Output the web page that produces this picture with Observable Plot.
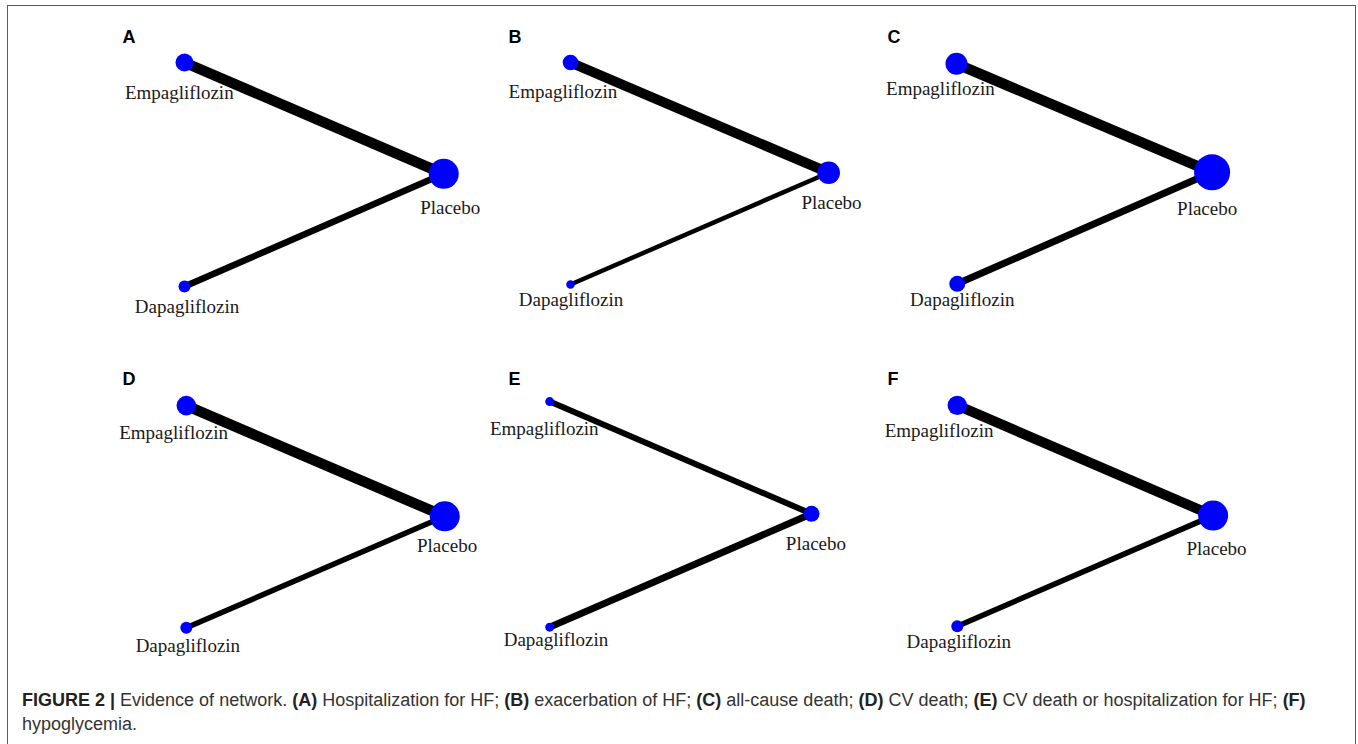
<!DOCTYPE html>
<html><head><meta charset="utf-8">
<script src="https://cdn.jsdelivr.net/npm/d3@7"></script>
<script src="https://cdn.jsdelivr.net/npm/@observablehq/plot@0.6"></script>
<style>
html,body{margin:0;padding:0;background:#fff;width:1358px;height:744px;overflow:hidden;}
#frame{position:absolute;left:7px;top:5px;width:1349px;height:780px;border:1.5px solid #5a5a5a;box-sizing:border-box;pointer-events:none;}
.panel{position:absolute;}
#caption{position:absolute;left:22px;top:688px;font-family:"Liberation Sans",Arial,sans-serif;font-size:18px;line-height:24px;color:#333;white-space:nowrap;}
#caption b{color:#222;}
</style></head><body>
<div id="charts"></div>
<div id="caption"></div>
<div id="frame"></div>
<script>
// Panels and outcomes
const panels = ["A", "B", "C", "D", "E", "F"];
const outcomes = ["Hospitalization for HF", "exacerbation of HF", "all-cause death", "CV death", "CV death or hospitalization for HF", "hypoglycemia"];
const treatments = ["Empagliflozin", "Placebo", "Dapagliflozin"];

// Network layout coordinates (layout units) per panel: [Empagliflozin, Placebo, Dapagliflozin]
const nodeU = [
  [0.000, 0.997, 0.000],
  [0.000, 0.993, 0.000],
  [0.000, 0.983, 0.003],
  [0.007, 1.001, 0.007],
  [-0.080, 0.927, -0.080],
  [0.003, 0.987, 0.003]
];
const nodeV = [
  [1.000, 0.503, 0.000],
  [1.000, 0.508, 0.009],
  [0.994, 0.510, 0.012],
  [0.995, 0.501, 0.003],
  [1.013, 0.512, 0.006],
  [0.996, 0.504, 0.010]
];
// Node weights (area units) per panel
const nodeWeight = [
  [81, 225, 36],
  [61, 128, 18],
  [121, 324, 64],
  [96, 225, 36],
  [20, 64, 20],
  [94, 225, 36]
];
// Label anchors (layout units) per panel
const labelU = [
  [-0.020, 1.022, 0.010],
  [-0.029, 1.004, 0.002],
  [-0.062, 0.964, 0.022],
  [-0.042, 1.010, 0.013],
  [-0.101, 0.944, -0.056],
  [-0.067, 1.000, 0.009]
];
const labelV = [
  [0.835, 0.325, -0.119],
  [0.842, 0.348, -0.085],
  [0.853, 0.317, -0.085],
  [0.847, 0.341, -0.106],
  [0.862, 0.351, -0.076],
  [0.854, 0.329, -0.086]
];
// Edge weights per panel
const edgeEmpaPlacebo = [10.5, 10, 10.5, 10.5, 6, 10];
const edgeDapaPlacebo = [6.5, 4.5, 7, 5.5, 7, 5.5];

const captionHTML = "<b>FIGURE 2 |</b> Evidence of network. <b>(A)</b> Hospitalization for HF; <b>(B)</b> exacerbation of HF; <b>(C)</b> all-cause death; <b>(D)</b> CV death; <b>(E)</b> CV death or hospitalization for HF; <b>(F)</b><br>hypoglycemia.";

const charts = document.getElementById("charts");
panels.forEach((p, i) => {
  const col = i % 3, row = Math.floor(i / 3);
  const nodes = treatments.map((t, j) => ({
    name: t, u: nodeU[i][j], v: nodeV[i][j], w: nodeWeight[i][j],
    lu: labelU[i][j], lv: labelV[i][j]
  }));
  const edges = [
    {a: nodes[0], b: nodes[1], w: edgeEmpaPlacebo[i]},
    {a: nodes[2], b: nodes[1], w: edgeDapaPlacebo[i]}
  ];
  const chart = Plot.plot({
    width: 386, height: 342,
    marginLeft: 84, marginRight: 42, marginTop: 62, marginBottom: 56,
    x: {domain: [0, 1], axis: null},
    y: {domain: [0, 1], axis: null},
    r: {type: "sqrt", domain: [0, 324], range: [0, 18]},
    style: {background: "none", overflow: "visible"},
    marks: [
      Plot.link(edges, {x1: d => d.a.u, y1: d => d.a.v, x2: d => d.b.u, y2: d => d.b.v,
        stroke: "black", strokeWidth: d => d.w, strokeLinecap: "butt"}),
      Plot.dot(nodes, {x: "u", y: "v", r: "w", fill: "#0000ff", stroke: "none"}),
      Plot.text(nodes, {x: "lu", y: "lv", text: "name", fontFamily: "Liberation Serif", fontSize: 19,
        fill: "#1a1a1a", lineAnchor: "bottom", textAnchor: "middle"}),
      Plot.text([p], {frameAnchor: "top-left", text: d => d, fontFamily: "Liberation Sans", fontWeight: "bold",
        fontSize: 18, fill: "black", textAnchor: "start", lineAnchor: "bottom",
        dx: col === 2 ? -69 : -62, dy: -20})
    ]
  });
  const div = document.createElement("div");
  div.className = "panel";
  div.style.left = (100 + 386 * col) + "px";
  div.style.top = (342 * row) + "px";
  div.appendChild(chart);
  charts.appendChild(div);
});
document.getElementById("caption").innerHTML = captionHTML;
</script>
</body></html>
